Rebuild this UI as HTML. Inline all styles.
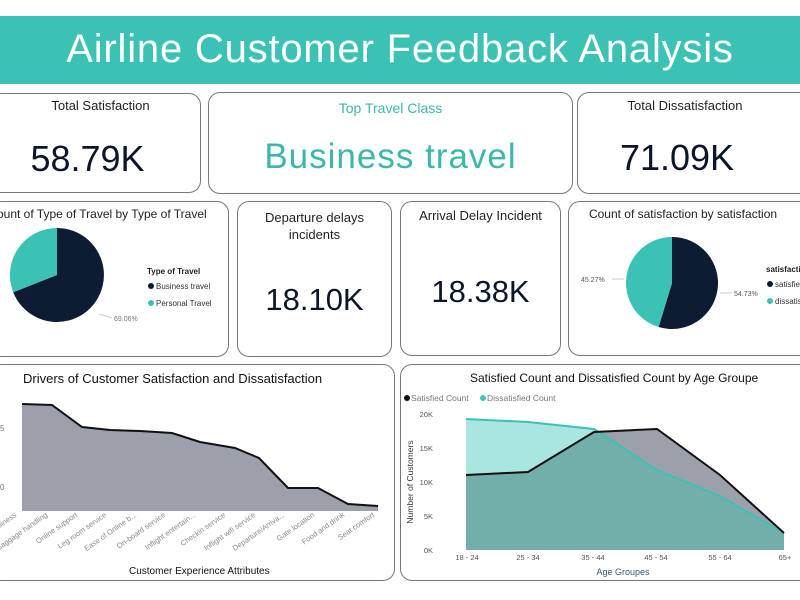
<!DOCTYPE html>
<html><head><meta charset="utf-8"><style>
body{margin:0;width:800px;height:600px;background:#fff;position:relative;overflow:hidden;font-family:"Liberation Sans",sans-serif;color:#111}
.hdr{position:absolute;left:0;top:16px;width:800px;height:68px;background:#3cc2b4;color:#fff;font-size:40px;text-align:center;line-height:66px;letter-spacing:0.8px}
.card{position:absolute;border:1.5px solid #777;border-radius:12px;box-sizing:border-box;background:#fff}
.t{position:absolute;width:100%;text-align:center;font-size:13px;color:#222}
.big{position:absolute;width:100%;text-align:center;font-size:36px;color:#0d1628}
svg{position:absolute;left:0;top:0}
</style></head><body>
<div class="hdr">Airline Customer Feedback Analysis</div>

<div class="card" style="left:-10px;top:93px;width:211px;height:100px"><div class="t" style="top:4px;left:5px">Total Satisfaction</div><div class="big" style="top:44px;left:-8px">58.79K</div></div>
<div class="card" style="left:208px;top:92px;width:365px;height:102px"><div class="t" style="top:7px;color:#3cb8ab;font-size:14px">Top Travel Class</div><div class="big" style="top:44px;color:#3cb8ab;font-size:35px;letter-spacing:1px">Business travel</div></div>
<div class="card" style="left:577px;top:92px;width:240px;height:102px"><div class="t" style="top:5px;left:-12px">Total Dissatisfaction</div><div class="big" style="top:44px;left:-20px">71.09K</div></div>

<div class="card" style="left:-10px;top:201px;width:239px;height:156px"><div class="t" style="top:5px;left:-12px;font-size:12px">Count of Type of Travel by Type of Travel</div></div>
<div class="card" style="left:237px;top:201px;width:155px;height:156px"><div class="t" style="top:7px;line-height:17px">Departure delays<br>incidents</div><div class="big" style="top:80px;font-size:31px">18.10K</div></div>
<div class="card" style="left:400px;top:201px;width:161px;height:155px"><div class="t" style="top:6px">Arrival Delay Incident</div><div class="big" style="top:72px;font-size:31px">18.38K</div></div>
<div class="card" style="left:568px;top:201px;width:250px;height:155px"><div class="t" style="top:5px;left:-10px;font-size:12px;white-space:nowrap">Count of satisfaction by satisfaction</div></div>

<div class="card" style="left:-10px;top:364px;width:405px;height:217px"><div style="position:absolute;left:32px;top:6px;font-size:13px">Drivers of Customer Satisfaction and Dissatisfaction</div><div style="position:absolute;left:138px;top:201px;font-size:10px">Customer Experience Attributes</div></div>
<div class="card" style="left:400px;top:364px;width:415px;height:217px"><div style="position:absolute;left:69px;top:6px;font-size:12px">Satisfied Count and Dissatisfied Count by Age Groupe</div></div>

<svg width="800" height="600" font-family="Liberation Sans,sans-serif">
<path d="M57 275 L57 228 A47 47 0 1 1 13.2 292.2 Z" fill="#0d1b33"/>
<path d="M57 275 L13.2 292.2 A47 47 0 0 1 57 228 Z" fill="#3cc2b4"/>
<line x1="99" y1="314" x2="112" y2="318" stroke="#ccc"/>
<text x="114" y="321" font-size="7" fill="#777">69.06%</text>
<text x="147" y="274" font-size="8" font-weight="bold" fill="#222">Type of Travel</text>
<circle cx="151" cy="286" r="3" fill="#0d1b33"/><text x="156" y="289" font-size="8" fill="#333">Business travel</text>
<circle cx="151" cy="303" r="3" fill="#3cc2b4"/><text x="156" y="306" font-size="8" fill="#333">Personal Travel</text>
<path d="M672 283 L672 237 A46 46 0 1 1 658.6 327 Z" fill="#0d1b33"/>
<path d="M672 283 L658.6 327 A46 46 0 0 1 672 237 Z" fill="#3cc2b4"/>
<line x1="612" y1="279" x2="624" y2="279" stroke="#ccc"/>
<text x="581" y="282" font-size="7" fill="#555">45.27%</text>
<line x1="720" y1="293" x2="732" y2="293" stroke="#ccc"/>
<text x="734" y="296" font-size="7" fill="#555">54.73%</text>
<text x="766" y="272" font-size="8" font-weight="bold" fill="#222">satisfaction</text>
<circle cx="770" cy="284" r="3" fill="#0d1b33"/><text x="775" y="287" font-size="8" fill="#333">satisfied</text>
<circle cx="770" cy="301" r="3" fill="#3cc2b4"/><text x="775" y="304" font-size="8" fill="#333">dissatisfied</text>
<text x="0" y="431" font-size="8" fill="#777">5</text><text x="0" y="490" font-size="8" fill="#777">0</text>
<path d="M22 404 L52 405 L82 427 L110 430 L140 431 L172 433 L200 442 L235 448 L259 458 L288 488 L318 488 L348 504 L378 506 L378 511 L22 511 Z" fill="#9ba0ab"/>
<path d="M22 404 L52 405 L82 427 L110 430 L140 431 L172 433 L200 442 L235 448 L259 458 L288 488 L318 488 L348 504 L378 506" fill="none" stroke="#111" stroke-width="2"/>
<g font-size="7.5" fill="#888" text-anchor="end">
<text transform="translate(17,516) rotate(-35)">Cleanliness</text>
<text transform="translate(48,516) rotate(-35)">Baggage handling</text>
<text transform="translate(78,516) rotate(-35)">Online support</text>
<text transform="translate(107,516) rotate(-35)">Leg room service</text>
<text transform="translate(137,516) rotate(-35)">Ease of Online b...</text>
<text transform="translate(166,516) rotate(-35)">On-board service</text>
<text transform="translate(196,516) rotate(-35)">Inflight entertain...</text>
<text transform="translate(226,516) rotate(-35)">Checkin service</text>
<text transform="translate(256,516) rotate(-35)">Inflight wifi service</text>
<text transform="translate(285,516) rotate(-35)">Departure/Arriva...</text>
<text transform="translate(315,516) rotate(-35)">Gate location</text>
<text transform="translate(345,516) rotate(-35)">Food and drink</text>
<text transform="translate(375,516) rotate(-35)">Seat comfort</text>
</g>
<circle cx="407" cy="398" r="3" fill="#111"/><text x="411" y="401" font-size="8.5" fill="#777">Satisfied Count</text>
<circle cx="483" cy="398" r="3" fill="#3cc2b4"/><text x="487" y="401" font-size="8.5" fill="#777">Dissatisfied Count</text>
<g font-size="7.5" fill="#555" text-anchor="end">
<text x="433" y="417">20K</text><text x="433" y="451">15K</text><text x="433" y="485">10K</text><text x="433" y="519">5K</text><text x="433" y="553">0K</text></g>
<text transform="translate(413,482) rotate(-90)" font-size="8.5" fill="#333" text-anchor="middle">Number of Customers</text>
<path d="M466 475 L528 472 L594 432 L657 429 L720 475 L784 533 L784 550 L466 550 Z" fill="#9ba0ab"/>
<path d="M466 419 L528 422 L594 429 L657 470 L720 496 L784 533 L784 550 L466 550 Z" fill="#a8e6df"/>
<path d="M466 475 L528 472 L594 432 L608 436 L657 470 L720 496 L784 533 L784 550 L466 550 Z" fill="#72afaa"/>
<path d="M466 419 L528 422 L594 429 L657 470 L720 496 L784 533" fill="none" stroke="#3cc2b4" stroke-width="2"/>
<path d="M466 475 L528 472 L594 432 L657 429 L720 475 L784 533" fill="none" stroke="#111" stroke-width="2"/>
<g font-size="7.5" fill="#555" text-anchor="middle">
<text x="467" y="560">18 - 24</text><text x="528" y="560">25 - 34</text><text x="593" y="560">35 - 44</text><text x="656" y="560">45 - 54</text><text x="720" y="560">55 - 64</text><text x="785" y="560">65+</text></g>
<text x="623" y="575" font-size="9" fill="#3a5a7a" text-anchor="middle">Age Groupes</text>
</svg>
</body></html>
